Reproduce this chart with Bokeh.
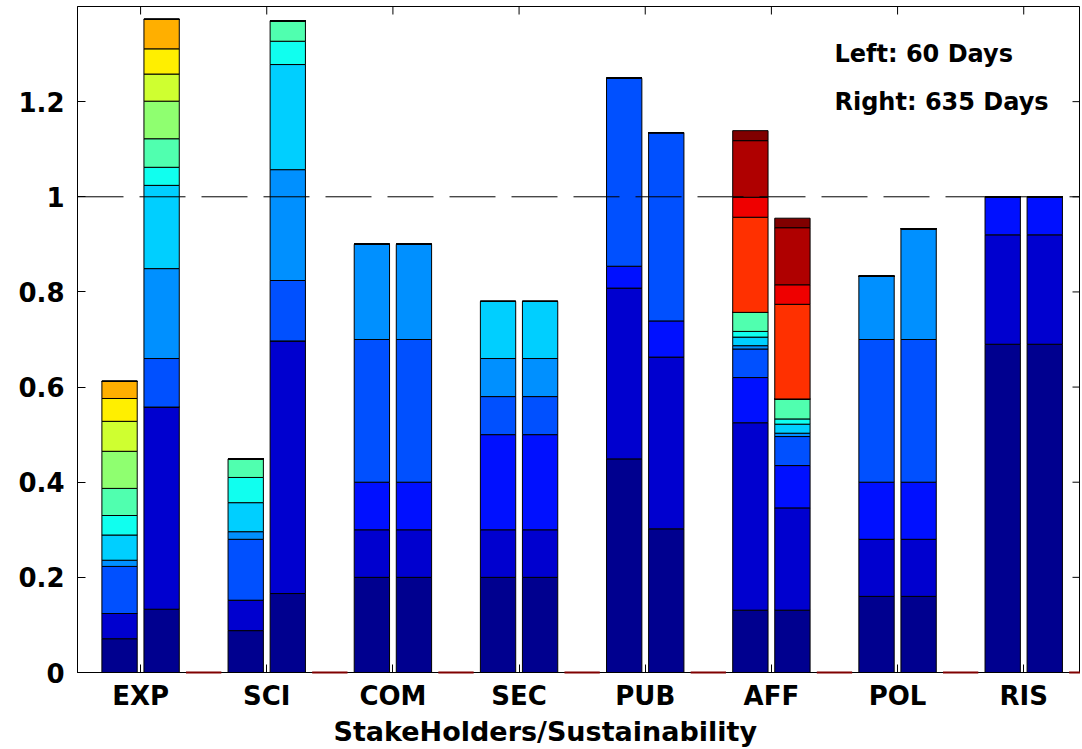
from bokeh.plotting import figure
from bokeh.models import ColumnDataSource, FixedTicker, Span, Range1d, Title
from bokeh.core.properties import value
from bokeh.embed import file_html
from bokeh.resources import INLINE

categories = ["EXP", "SCI", "COM", "SEC", "PUB", "AFF", "POL", "RIS"]
periods = ["Left: 60 Days", "Right: 635 Days"]
x_title = "StakeHolders/Sustainability"

# stacked component heights, bottom to top (17 components; missing tail = 0)
EXP_60 = [0.071, 0.053, 0.0, 0.099, 0.013, 0.053, 0.041, 0.057, 0.078, 0.063, 0.048, 0.036]
EXP_635 = [0.133, 0.425, 0.0, 0.102, 0.189, 0.175, 0.038, 0.060, 0.079, 0.057, 0.053, 0.062]
SCI_60 = [0.088, 0.064, 0.0, 0.128, 0.016, 0.061, 0.053, 0.039]
SCI_635 = [0.166, 0.531, 0.0, 0.127, 0.233, 0.221, 0.049, 0.043]
COM_60 = [0.2, 0.1, 0.1, 0.3, 0.2]
COM_635 = [0.2, 0.1, 0.1, 0.3, 0.2]
SEC_60 = [0.2, 0.1, 0.2, 0.08, 0.08, 0.12]
SEC_635 = [0.2, 0.1, 0.2, 0.08, 0.08, 0.12]
PUB_60 = [0.449, 0.359, 0.046, 0.395]
PUB_635 = [0.302, 0.361, 0.076, 0.396]
AFF_60 = [0.131, 0.394, 0.095, 0.060, 0.007, 0.018, 0.012, 0.040, 0, 0, 0, 0, 0, 0.200, 0.042, 0.119, 0.021]
AFF_635 = [0.131, 0.215, 0.089, 0.061, 0.007, 0.019, 0.011, 0.042, 0, 0, 0, 0, 0, 0.199, 0.041, 0.120, 0.020]
POL_60 = [0.16, 0.12, 0.12, 0.30, 0.133]
POL_635 = [0.16, 0.12, 0.12, 0.30, 0.233]
RIS_60 = [0.69, 0.23, 0.08]
RIS_635 = [0.69, 0.23, 0.08]

y_ticks = [0, 0.2, 0.4, 0.6, 0.8, 1, 1.2]
y_tick_labels = ["0", "0.2", "0.4", "0.6", "0.8", "1", "1.2"]
reference_level = 1.0

bars_60 = [EXP_60, SCI_60, COM_60, SEC_60, PUB_60, AFF_60, POL_60, RIS_60]
bars_635 = [EXP_635, SCI_635, COM_635, SEC_635, PUB_635, AFF_635, POL_635, RIS_635]

# jet-style palette (styles)
palette = ["#00008F", "#0000CF", "#0010FF", "#0050FF", "#0090FF", "#00CFFF",
           "#10FFEF", "#50FFAF", "#8FFF70", "#CFFF30", "#FFEF00", "#FFAF00",
           "#FF7000", "#FF3000", "#EF0000", "#AF0000", "#800000"]
NSER = len(palette)

xs, bots, tops, cols = [], [], [], []
for g, cat in enumerate(categories):
    for j, segs in enumerate([bars_60[g], bars_635[g]]):
        segs = list(segs) + [0.0] * (NSER - len(segs))
        base = 0.0
        for k, h in enumerate(segs):
            xs.append(3 * g + 1 + j)
            bots.append(base)
            tops.append(base + h)
            cols.append(palette[k])
            base += h

src = ColumnDataSource(dict(x=xs, bottom=bots, top=tops, color=cols))

FONT = "DejaVu Sans"
X_END = 23.85
Y_END = 1.4
p = figure(width=1080, height=748, x_range=Range1d(0, X_END),
           y_range=Range1d(0, Y_END), output_backend="svg", toolbar_location=None,
           min_border_left=77, min_border_right=0, min_border_top=6, min_border_bottom=76,
           background_fill_color="white", border_fill_color="white")
p.outline_line_color = "black"
p.outline_line_width = 1
p.xgrid.visible = False
p.ygrid.visible = False

p.vbar(x="x", width=0.84, bottom="bottom", top="top", source=src,
       fill_color="color", line_color="black", line_width=1)

# zero-height third bar of each group (baseline marker)
gx = [3 * g + 3 for g in range(len(categories))]
gap = p.segment(x0=[x - 0.42 for x in gx], y0=[0] * len(gx), x1=[x + 0.42 for x in gx],
                y1=[0] * len(gx), line_color="#800000", line_width=2)
gap.level = "overlay"

span = Span(location=reference_level, dimension="width", line_color="black",
            line_width=1, line_dash="46 16", level="overlay")
p.add_layout(span)

p.text(x=[18.0, 18.0], y=[1.3, 1.2], text=periods, text_font=value(FONT),
       text_font_style="bold", text_font_size="24px", text_align="left",
       text_baseline="middle", text_color="black")

x_ticks = [3 * g + 1.5 for g in range(len(categories))]

# mirrored inward ticks on top and right edges
p.ray(x=x_ticks, y=[Y_END] * len(x_ticks), length=8, length_units="screen",
      angle=-90, angle_units="deg", line_color="black", line_width=1)
p.ray(x=[X_END] * len(y_ticks), y=y_ticks, length=8, length_units="screen",
      angle=180, angle_units="deg", line_color="black", line_width=1)

xa = p.xaxis[0]
xa.ticker = FixedTicker(ticks=x_ticks)
xa.major_label_overrides = {t: c for t, c in zip(x_ticks, categories)}
ya = p.yaxis[0]
ya.ticker = FixedTicker(ticks=y_ticks)
ya.major_label_overrides = {t: s for t, s in zip(y_ticks, y_tick_labels)}

for ax in (xa, ya):
    ax.major_tick_in = 8
    ax.major_tick_out = 0
    ax.minor_tick_line_color = None
    ax.axis_line_color = "black"
    ax.major_tick_line_color = "black"
    ax.major_label_text_font = FONT
    ax.major_label_text_font_style = "bold"
    ax.major_label_text_font_size = "26px"
    ax.major_label_text_color = "black"
xa.major_label_standoff = 8
ya.major_label_standoff = 13

p.add_layout(Title(text=x_title, align="left", offset=256, standoff=0,
                   text_font=FONT, text_font_style="bold", text_font_size="27px",
                   text_color="black"), "below")

open("out.html", "w").write(file_html(p, INLINE))
